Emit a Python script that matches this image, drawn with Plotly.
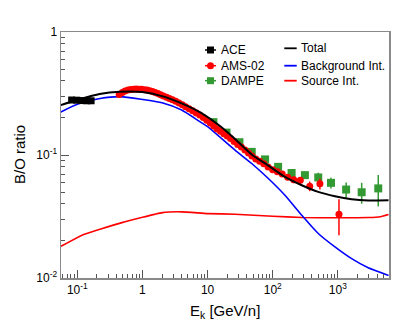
import plotly.graph_objects as go

# ---------------- data ----------------
ace_e = [0.082, 0.098, 0.118, 0.140, 0.163]
ace_v = [0.280, 0.279, 0.277, 0.276, 0.276]
ace_err = [0.004, 0.004, 0.004, 0.004, 0.004]

ams_e = [0.44, 0.49, 0.54, 0.60, 0.66, 0.73, 0.80, 0.88, 0.97, 1.07, 1.18, 1.30, 1.43, 1.57,
         1.73, 1.90, 2.10, 2.35, 2.6, 2.9, 3.25, 3.65, 4.1, 4.6, 5.2, 5.9, 6.7, 7.6, 8.6, 9.7,
         11, 12.4, 14, 15.8, 17.8, 20, 22.5, 25.5, 29, 33, 37.5, 42.5, 48, 55, 63, 73, 85,
         100, 118, 140, 170, 210, 265, 370, 530, 1040]
ams_v = [0.310, 0.322, 0.332, 0.338, 0.341, 0.343, 0.344, 0.343, 0.342, 0.340, 0.337, 0.333,
         0.328, 0.322, 0.316, 0.309, 0.302, 0.295, 0.288, 0.281, 0.273, 0.265, 0.256, 0.247,
         0.238, 0.229, 0.220, 0.211, 0.202, 0.192, 0.182, 0.172, 0.163, 0.156, 0.149, 0.143,
         0.136, 0.129, 0.122, 0.116, 0.110, 0.104, 0.098, 0.093, 0.089, 0.085, 0.080, 0.076,
         0.073, 0.070, 0.066, 0.063, 0.0623, 0.0558, 0.0585, 0.033]
ams_err = [0.004] * 30 + [0.003] * 18 + [0.002, 0.002, 0.003, 0.004, 0.004, 0.005, 0.006, 0.0107]

dampe_e = [12.3, 19.5, 30.8, 47.6, 76.3, 121, 195, 312, 500, 784, 1340, 2320, 4170]
dampe_v = [0.185, 0.152, 0.127, 0.106, 0.0921, 0.0801, 0.0714, 0.0686, 0.0657, 0.0594, 0.0524,
           0.0498, 0.0535]
dampe_err = [0.003, 0.0025, 0.002, 0.002, 0.002, 0.002, 0.002, 0.0025, 0.006, 0.006, 0.0075,
             0.0096, 0.0153]

total_e = [0.056, 0.1, 0.22, 0.45, 1.0, 2.0, 4.0, 7.7, 15.5, 26.4, 47.6, 85.6, 154, 279, 500,
           902, 1629, 2924, 6000]
total_v = [0.255, 0.28, 0.313, 0.327, 0.325, 0.301, 0.263, 0.222, 0.172, 0.135, 0.101, 0.082,
           0.0664, 0.0568, 0.0501, 0.0462, 0.0437, 0.0427, 0.0429]

bkg_e = [0.056, 0.1, 0.224, 0.455, 1.0, 2.0, 4.0, 7.7, 10, 26.4, 47.6, 85.6, 154, 279, 500,
         902, 1629, 2924, 6000]
bkg_v = [0.224, 0.259, 0.288, 0.298, 0.283, 0.266, 0.232, 0.186, 0.17, 0.1095, 0.0853, 0.0644,
         0.0471, 0.0324, 0.0230, 0.0179, 0.01436, 0.0121, 0.0105]

src_e = [0.056, 0.118, 0.483, 2.03, 4.0, 10, 26.4, 100, 279, 902, 2924, 4500, 6000]
src_v = [0.0181, 0.0223, 0.0282, 0.034, 0.0345, 0.0334, 0.033, 0.0318, 0.031, 0.0309, 0.031,
         0.0315, 0.0328]

x_ticks = [0.1, 1, 10, 100, 1000]
x_ticktext = ["10<sup>-1</sup>", "1", "10", "10<sup>2</sup>", "10<sup>3</sup>"]
y_ticks = [0.01, 0.1, 1]
y_ticktext = ["10<sup>-2</sup>", "10<sup>-1</sup>", "1"]

GREEN = "#339933"
FONT = "Liberation Sans, Arial, sans-serif"

fig = go.Figure()

# curves
fig.add_trace(go.Scatter(x=src_e, y=src_v, mode="lines",
                         line=dict(color="#ff0000", width=1.6, shape="spline", smoothing=0.4),
                         name="Source Int."))
fig.add_trace(go.Scatter(x=bkg_e, y=bkg_v, mode="lines",
                         line=dict(color="#0000ff", width=1.6, shape="spline", smoothing=0.6),
                         name="Background Int."))

# data
fig.add_trace(go.Scatter(x=ace_e, y=ace_v, mode="markers", name="ACE",
                         marker=dict(symbol="square", size=7, color="black"),
                         error_y=dict(type="data", array=ace_err, color="black", thickness=1.5, width=0)))
fig.add_trace(go.Scatter(x=dampe_e, y=dampe_v, mode="markers", name="DAMPE",
                         marker=dict(symbol="square", size=8, color=GREEN),
                         error_y=dict(type="data", array=dampe_err, color=GREEN, thickness=1.5, width=0)))
fig.add_trace(go.Scatter(x=ams_e, y=ams_v, mode="markers", name="AMS-02",
                         marker=dict(symbol="circle", size=7, color="#ff0000"),
                         error_y=dict(type="data", array=ams_err, color="#ff0000", thickness=1.5, width=0)))
fig.add_trace(go.Scatter(x=total_e, y=total_v, mode="lines",
                         line=dict(color="black", width=2, shape="spline", smoothing=0.6),
                         name="Total"))

minor_x = [m * 10 ** d for d in range(-2, 4) for m in range(2, 10)]
minor_y = [m * 10 ** d for d in range(-2, 0) for m in range(2, 10)]

axis_common = dict(type="log", showgrid=False, zeroline=False, showline=True, mirror=True,
                   linecolor="#8a8a8a", linewidth=1.5, ticks="inside", tickcolor="#555555",
                   ticklen=8, tickwidth=1, tickfont=dict(family=FONT, size=12, color="black"))

fig.update_xaxes(range=[-1.25, 3.785], tickmode="array", tickvals=x_ticks, ticktext=x_ticktext,
                 minor=dict(tickmode="array", tickvals=minor_x, ticks="inside", ticklen=4,
                            tickcolor="#555555", showgrid=False),
                 **axis_common)
fig.update_yaxes(range=[-2, 0], tickmode="array", tickvals=y_ticks, ticktext=y_ticktext,
                 minor=dict(tickmode="array", tickvals=minor_y, ticks="inside", ticklen=4,
                            tickcolor="#555555", showgrid=False),
                 **axis_common)

# plot area geometry (pixels)
W, H = 408, 327
L, R, T, B = 61, 19, 32, 49
pw, ph = W - L - R, H - T - B


def px(xp):
    return (xp - L) / pw


def py(yp):
    return (H - B - yp) / ph


shapes = []
annotations = []
# legend, left column (markers)
left_items = [("ACE", "square", "black", 50.0), ("AMS-02", "circle", "#ff0000", 65.7),
              ("DAMPE", "square", GREEN, 80.7)]
for label, sym, col, yc in left_items:
    shapes.append(dict(type="line", xref="paper", yref="paper", x0=px(205), x1=px(216),
                       y0=py(yc), y1=py(yc), line=dict(color=col, width=1.5)))
    shapes.append(dict(type="rect" if sym == "square" else "circle", xref="paper", yref="paper",
                       xsizemode="pixel", ysizemode="pixel", xanchor=px(210.5), yanchor=py(yc),
                       x0=-3.5, x1=3.5, y0=-3.5, y1=3.5, fillcolor=col, line=dict(width=0)))
    annotations.append(dict(text=label, xref="paper", yref="paper", x=px(219), y=py(yc),
                            xanchor="left", yanchor="middle", showarrow=False,
                            font=dict(family=FONT, size=12, color="black")))
right_items = [("Total", "black", 48.3), ("Background Int.", "#0000ff", 65.7),
               ("Source Int.", "#ff0000", 80.7)]
for label, col, yc in right_items:
    shapes.append(dict(type="line", xref="paper", yref="paper", x0=px(284.3), x1=px(296.7),
                       y0=py(yc), y1=py(yc), line=dict(color=col, width=1.8)))
    annotations.append(dict(text=label, xref="paper", yref="paper", x=px(299), y=py(yc),
                            xanchor="left", yanchor="middle", showarrow=False,
                            font=dict(family=FONT, size=12, color="black")))

# axis titles
annotations.append(dict(text="E<sub>k</sub> [GeV/n]", xref="paper", yref="paper", x=0.5, y=0,
                        xanchor="center", yanchor="middle", yshift=-33, showarrow=False,
                        font=dict(family=FONT, size=15, color="black")))
annotations.append(dict(text="B/O ratio", xref="paper", yref="paper", x=0, y=0.5,
                        xanchor="center", yanchor="middle", xshift=-42, textangle=-90,
                        showarrow=False, font=dict(family=FONT, size=15, color="black")))

fig.update_layout(width=W, height=H, margin=dict(l=L, r=R, t=T, b=B, autoexpand=False),
                  paper_bgcolor="white", plot_bgcolor="white", showlegend=False,
                  shapes=shapes, annotations=annotations, hovermode=False,
                  font=dict(family=FONT, size=12, color="black"))

fig.write_html("out.html", config={"displayModeBar": False, "staticPlot": True},
               post_script="document.body.style.margin='0px';document.body.style.overflow='hidden';")
